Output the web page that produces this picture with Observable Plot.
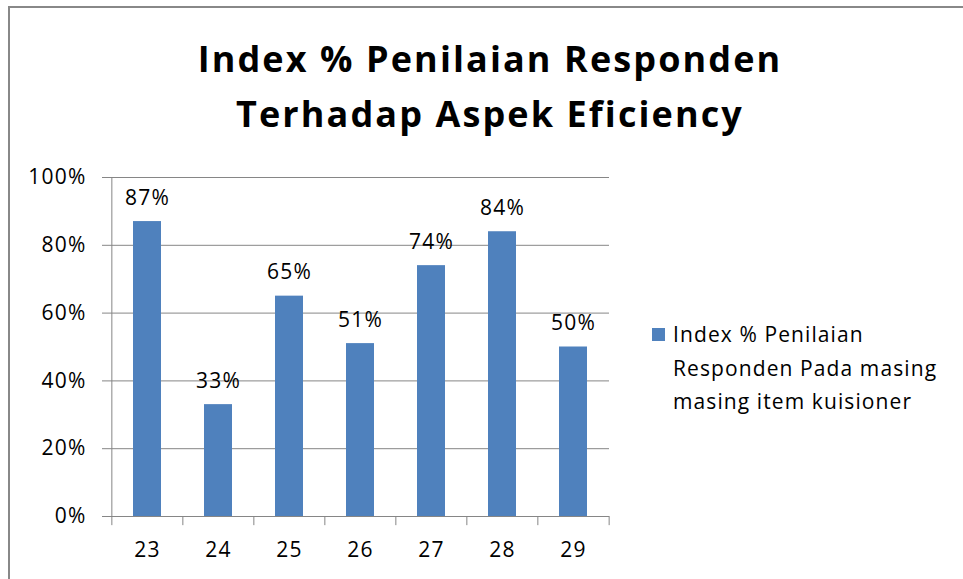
<!DOCTYPE html>
<html>
<head>
<meta charset="utf-8">
<script src="https://cdn.jsdelivr.net/npm/d3@7"></script>
<script src="https://cdn.jsdelivr.net/npm/@observablehq/plot@0.6"></script>
<style>
  html, body { margin: 0; padding: 0; background: #fff; width: 963px; height: 579px; overflow: hidden; }
  body { position: relative; font-family: "Open Sans", sans-serif; color: #000; }
  #frame { position: absolute; left: 8px; top: 6px; width: 1000px; height: 1000px; border-left: 2px solid #888; border-top: 2px solid #888; }
  #title { position: absolute; left: 0; width: 980px; top: 31px; text-align: center; font-weight: bold; font-size: 36px; line-height: 55px; letter-spacing: 2.1px; }
  #chart { position: absolute; left: 0; top: 0; }
  #legend { position: absolute; left: 652px; top: 318px; font-size: 21px; line-height: 33.5px; letter-spacing: 1.1px; }
  #legend .sw { position: absolute; left: 0; top: 10px; width: 13px; height: 13px; background: #4F81BD; }
  #legend .tx { position: absolute; left: 21px; top: 0; white-space: nowrap; }
</style>
</head>
<body>
<div id="frame"></div>
<div id="title">Index % Penilaian Responden<br>Terhadap Aspek Eficiency</div>
<div id="chart"></div>
<div id="legend"><div class="sw"></div><div class="tx">Index % Penilaian<br>Responden Pada masing<br>masing item kuisioner</div></div>
<script>
const categories = ["23", "24", "25", "26", "27", "28", "29"];
const values = [0.87, 0.33, 0.65, 0.51, 0.74, 0.84, 0.50];
const yTicks = [0, 0.2, 0.4, 0.6, 0.8, 1.0];
const seriesName = "Index % Penilaian Responden Pada masing masing item kuisioner";

const data = categories.map((c, i) => ({cat: c, value: values[i]}));
const fmt = d3.format(".0%");

const W = 963, H = 579, ml = 110, mr = 354, mt = 177, mb = 63;
const step = (W - ml - mr) / categories.length;
const grid = "#868686";

const plot = Plot.plot({
  width: W, height: H,
  marginLeft: ml, marginRight: mr, marginTop: mt, marginBottom: mb,
  style: {fontFamily: "Open Sans, sans-serif", fontSize: "21px", background: "transparent", color: "#000", overflow: "visible", letterSpacing: "1.2px"},
  x: {type: "band", domain: categories, paddingInner: 0.61, paddingOuter: 0.305, axis: null},
  y: {domain: [0, 1], axis: null},
  marks: [
    Plot.ruleY(yTicks, {y: d => d, stroke: grid, strokeWidth: 1, insetLeft: -8}),
    Plot.text(yTicks, {y: d => d, text: d => fmt(d), frameAnchor: "left", textAnchor: "end", dx: -24, fill: "#000"}),
    Plot.ruleX([categories[0]], {x: d => d, dx: -step / 2, y1: 0, y2: 1, stroke: grid}),
    Plot.ruleX(categories, {x: d => d, dx: -step / 2, y1: 0, y2: -0.027, stroke: grid}),
    Plot.ruleX([categories[categories.length - 1]], {x: d => d, dx: step / 2, y1: 0, y2: -0.027, stroke: grid}),
    Plot.barY(data, {x: "cat", y: "value", fill: "#4F81BD"}),
    Plot.text(data, {x: "cat", y: "value", text: d => fmt(d.value), lineAnchor: "bottom", dy: -17, fill: "#000"}),
    Plot.text(categories, {x: d => d, text: d => d, frameAnchor: "bottom", lineAnchor: "top", dy: 26, fill: "#000"})
  ]
});
document.getElementById("chart").appendChild(plot);
</script>
</body>
</html>
